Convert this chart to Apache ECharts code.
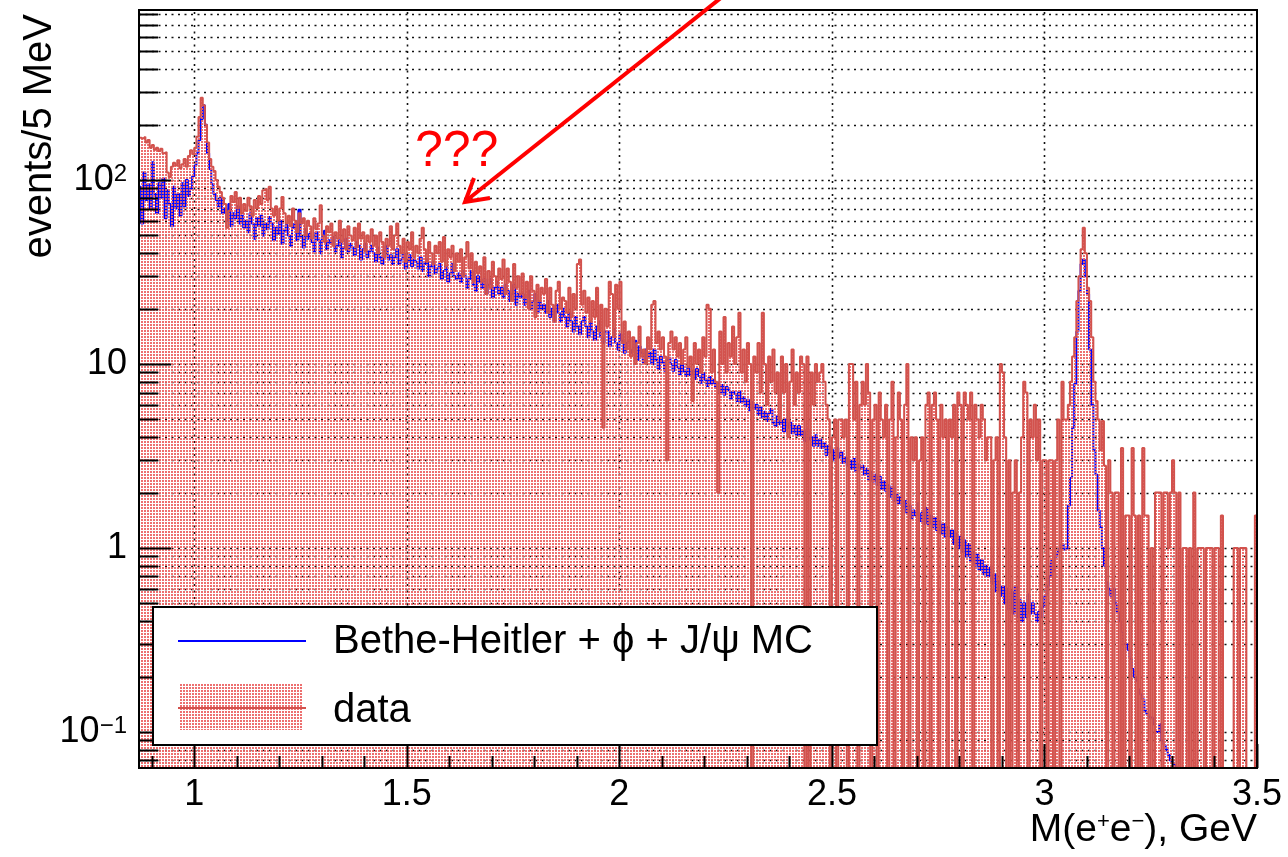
<!DOCTYPE html>
<html><head><meta charset="utf-8">
<script src="https://cdn.jsdelivr.net/npm/echarts@6/dist/echarts.min.js"></script>
<style>html,body{margin:0;padding:0;background:#fff}#c{width:1288px;height:857px}</style>
</head><body><div id="c"></div>
<script>
// ---- axis ranges and tick labels ----
const binStart = 0.87;       // GeV, first bin low edge
const binWidth = 0.005;      // 5 MeV bins
const xRange = [0.87, 3.5];
const yRange = [0.0637, 840];
const xTickLabels = [1, 1.5, 2, 2.5, 3, 3.5];
const yTickLabels = [0.1, 1, 10, 100];

// ---- data histogram, events / 5 MeV (bins from 0.87 GeV) ----
const dataCounts = [
 170,168,172,160,165,150,155,146,150,144,
 148,140,142,110,104,118,124,120,128,116,
 122,130,118,135,145,138,150,172,220,280,
 255,200,160,130,118,112,100,92,86,80,
 74,55,68,82,76,86,70,80,66,74,
 68,80,72,64,78,70,82,74,88,90,
 78,92,70,64,72,60,70,81,66,58,
 64,56,70,60,52,66,58,62,50,60,
 56,48,62,54,58,73,50,46,56,52,
 58,44,52,48,60,46,54,42,56,50,
 47,55,43,58,48,52,41,50,46,54,
 44,50,40,52,46,38,48,44,56,42,
 50,58,44,40,48,36,46,42,52,38,
 44,40,48,55,42,36,46,40,35,44,
 40,46,36,49,34,42,38,44,32,40,
 36,42,30,38,46,33,40,28,36,31,
 34,28,38,24,32,26,36,30,27,33,
 29,37,24,33,28,22,35,26,30,24,
 31,23,28,20,30,25,18,27,22,26,
 24,29,19,26,21,17,25,28,20,23,
 22,19,26,18,24,20,35,37,21,25,
 19,23,17,22,18,26,15,21,4.5,20,
 16,28,24,14,27,20,28,13,17,12,
 15,11,14,10,13,16,11,12,10,14,
 12,21,22,13,15,12,14,11,3,13,
 15,12,14,11,13,10,12,14,9.6,11,
 6.3,13,10,12,9,14,11,21,20,9,
 12,8,2,15,10,18,9,13,11,16,
 10,14,19,9,12,8,13,10,0,11,
 9,13,7,19,10,6,11,8,12,7,
 9,5,11,7,10,4,8,12,6,9,
 7,11,10,0,11,0,9,6,10,8,
 9,10,8,6,5,0,4,5,0,5,
 5,4,5,0,10,10,5,8,0,6,
 8,6,10,7,0,5,6,0,7,5,
 4,6,0,5,8,0,4,7,5,0,
 6,10,0,4,3,4,0,3,4,0,
 6,7,0,6,7,5,0,6,4,5,
 0,5,4,6,0,7,6,0,7,6,
 5,7,0,6,5,4,6,5,3,4,
 4,0,3,4,0,10,9,4,0,3,
 0,2,3,0,2,4,8,7,0,5,
 4,6,3,5,0,3,3,0,3,3,
 0,3,5,0,8,5,5,6,8,11,
 14,22,30,42,55,40,26,22,14,8,
 6.3,5,3.4,4.9,2.8,0,3,2,0,2,
 2,0,3.5,0,1.5,1.5,0,3.5,1.5,0,
 1.5,0,3.5,1.5,1.5,0,1,0,2,2,
 2,0,2,2,1,2,3,2,0,2,
 0,1,1,0,1,0,2,0,1,1,
 1,0,1,1,1,0,1,1,0,1.5,
 0,0,0,0,0,1,1,0,1,1,
 1,0,0,0,0,1.5
];

// ---- Bethe-Heitler + phi + J/psi MC, events / 5 MeV ----
const mcCounts = [
 92,58,110,78,95,70,125,84,66,96,
 80,102,62,88,74,56,92,70,84,64,
 96,72,100,82,90,105,120,140,165,215,
 255,200,140,115,95,84,78,72,80,66,
 70,60,74,56,66,62,72,58,64,55,
 60,52,66,58,48,62,56,64,50,58,
 54,63,58,47,55,51,60,45,53,57,
 50,44,55,58,47,69,49,43,54,48,
 51,46,41,52,47,40,49,53,42,47,
 45,49,41,44,47,38,43,48,41,45,
 43,39,46,44,37,42,45,38,41,44,
 40,36,43,38,35,41,44,37,39,35,
 38,42,35,37,40,33,36,39,34,37,
 36,33,38,32,35,37,30,34,36,31,
 33,35,29,32,34,28,31,35,30,29,
 31,28,32,30,26,29,32,27,25,30,
 28,26,29,24,27,29,23,26,28,24,
 26,23,27,25,22,24,27,21,24,23,
 24,21,23,25,20,22,24,19,22,20,
 21,19,22,18,20,17,21,19,17,20,
 18,16,19,17,15,18,16,14.5,17,18,
 16,14,17,15,13.5,16,17,14,13,15,
 15,12.5,14,15.5,13,12,14.5,13.4,11.5,13,
 13.5,11.5,12,13.4,10.5,12.5,11.5,10.2,12,11,
 11.5,10,12,10.5,9.4,11,10.2,9.2,10.5,10.8,
 10,9.2,10.5,9.6,8.8,9.9,9.1,8.6,9.6,8.7,
 9.2,8.3,9.4,8.6,7.9,8.9,8.2,7.6,8.5,7.8,
 8.2,7.4,7.9,7,7.7,6.8,7.5,7.2,6.5,7.1,
 6.9,6.3,7.1,6.2,6.6,5.9,6.4,5.6,6.2,5.7,
 6,5.3,5.8,5.1,5.5,4.9,5.4,5.7,4.8,4.6,
 5.2,4.7,4.9,4.3,5,4.5,4.8,4.2,4.6,4.1,
 4.6,4.1,4.3,3.8,4.4,3.9,4,3.6,4.1,3.6,
 3.9,3.5,3.7,3.2,3.6,3.3,3.4,3,3.5,3.1,
 3.3,2.9,3.1,2.8,3,2.7,3.05,2.6,2.85,2.7,
 2.8,2.5,2.7,2.35,2.6,2.3,2.5,2.2,2.45,2.1,
 2.3,2.05,2.2,1.9,2.15,1.8,1.95,1.75,1.9,1.65,
 1.8,1.55,1.7,1.45,1.6,1.5,1.75,1.4,1.55,1.35,
 1.65,1.35,1.5,1.3,1.45,1.25,1.4,1.2,1.35,1.15,
 1.3,1.15,1.25,1.05,1.2,1,1.15,0.95,1.1,0.9,
 1.05,0.85,0.95,0.8,0.92,0.76,0.86,0.72,0.8,0.7,
 0.78,0.64,0.72,0.58,0.66,0.55,0.62,0.5,0.6,0.46,
 0.58,0.44,0.62,0.42,0.52,0.4,0.5,0.42,0.56,0.44,
 0.5,0.44,0.4,0.45,0.42,0.48,0.55,0.62,0.7,0.85,
 0.75,0.9,0.95,1,1.05,0.98,1,1.7,2.4,4.5,
 7.8,15,25,35,37,30,24,12,6,3.4,
 2.5,1.6,1.3,1,0.8,0.65,0.6,0.55,0.6,0.5,
 0.45,0.4,0.35,0.3,0.3,0.28,0.25,0.22,0.2,0.19,
 0.17,0.16,0.15,0.13,0.125,0.12,0.12,0.11,0.1,0.1,
 0.11,0.09,0.085,0.08,0.075,0.07,0.068,0.066,0.064,0.055,
 0.05,0.045,0.04,0.035,0.03,0.03,0.025,0.02,0.02,0.02,
 0.015,0.015,0.015,0.015,0.015,0.015,0.015,0.015,0.015,0.015,
 0.01,0.01,0.01,0.01,0.01,0.01,0.01,0.01,0.01,0.01,
 0.01,0.01,0.01,0.01,0.01,0.01
];

// ---- build step points (empty bins go below the log axis floor) ----
const FLOOR = 1e-3;
function stepPoints(arr) {
  const pts = arr.map((v, i) => [+(binStart + i * binWidth).toFixed(4), v > 0 ? v : FLOOR]);
  const last = arr[arr.length - 1];
  pts.push([+(binStart + arr.length * binWidth).toFixed(4), last > 0 ? last : FLOOR]);
  return pts;
}
const dataPts = stepPoints(dataCounts);
const mcPts = stepPoints(mcCounts);

// grid / tick positions
const yMinor = [];
for (let d = -2; d <= 2; d++) for (let k = 1; k <= 9; k++) {
  const v = +(k * Math.pow(10, d)).toPrecision(6);
  if (v > yRange[0] && v < yRange[1]) yMinor.push(v);
}
const xGrid = [1, 1.5, 2, 2.5, 3];
const xTicks = [];
for (let k = 9; k <= 35; k++) xTicks.push(+(k / 10).toFixed(2));

// dotted pattern for the data fill
const pc = document.createElement('canvas');
pc.width = 3; pc.height = 3;
const pctx = pc.getContext('2d');
pctx.fillStyle = 'rgba(236,100,100,0.92)';
pctx.fillRect(0, 0, 2, 2);
const fillPattern = { image: pc, repeat: 'repeat' };

const RED = '#d2524d';
const BLUE = '#0000ff';
const FONT = '"Liberation Sans", Arial, Helvetica, sans-serif';
const isDecade = v => Math.abs(Math.log10(v) - Math.round(Math.log10(v))) < 1e-6;

const chart = echarts.init(document.getElementById('c'), null, { renderer: 'canvas' });
chart.setOption({
  animation: false,
  backgroundColor: '#fff',
  grid: { left: 139, right: 31, top: 10, bottom: 89, containLabel: false, outerBoundsMode: 'none' },
  xAxis: {
    type: 'value', min: xRange[0], max: xRange[1],
    axisLine: { show: false }, axisTick: { show: false }, splitLine: { show: false },
    axisLabel: { customValues: xTickLabels, margin: 9, fontFamily: FONT, fontSize: 36, color: '#000' }
  },
  yAxis: {
    type: 'log', logBase: 10, min: yRange[0], max: yRange[1],
    axisLine: { show: false }, axisTick: { show: false }, splitLine: { show: false },
    axisLabel: {
      customValues: yTickLabels, margin: 12, fontFamily: FONT, fontSize: 36, color: '#000',
      formatter: v => {
        const e = Math.round(Math.log10(v));
        if (e === 2) return '{b|10}{s|2}';
        if (e === -1) return '{b|10}{s|\u22121}';
        return String(v);
      },
      rich: {
        b: { fontFamily: FONT, fontSize: 36, color: '#000' },
        s: { fontFamily: FONT, fontSize: 24, color: '#000', verticalAlign: 'top' }
      }
    }
  },
  series: [
    { // vertical grid lines
      type: 'custom', coordinateSystem: 'cartesian2d', z: 1, silent: true, clip: false,
      data: xGrid.map(v => [v, 1]),
      renderItem: (p, api) => {
        const v = api.value(0);
        const a = api.coord([v, yRange[0]]), b = api.coord([v, yRange[1]]);
        const x = Math.round(a[0]) + 0.5;
        return { type: 'line', shape: { x1: x, y1: a[1], x2: x, y2: b[1] },
          style: { stroke: '#111', lineWidth: 1.6, lineDash: [2, 4.5] } };
      }
    },
    { // horizontal grid lines
      type: 'custom', coordinateSystem: 'cartesian2d', z: 1, silent: true, clip: false,
      data: yMinor.map(v => [xRange[0], v]),
      renderItem: (p, api) => {
        const v = api.value(1);
        const a = api.coord([xRange[0], v]), b = api.coord([xRange[1], v]);
        const y = Math.round(a[1]) + 0.5;
        return { type: 'line', shape: { x1: a[0], y1: y, x2: b[0], y2: y },
          style: { stroke: '#111', lineWidth: 1.6, lineDash: [2, 4.5] } };
      }
    },
    { // MC
      name: 'mc', type: 'line', step: 'end', data: mcPts, symbol: 'none', z: 2, silent: true,
      clip: true, lineStyle: { color: BLUE, width: 2 }
    },
    { // data
      name: 'data', type: 'line', step: 'end', data: dataPts, symbol: 'none', z: 3, silent: true,
      clip: true, lineStyle: { color: RED, width: 2 },
      areaStyle: { color: fillPattern, opacity: 1, origin: 'start' }
    },
    { // y ticks
      type: 'custom', coordinateSystem: 'cartesian2d', z: 10, silent: true, clip: false,
      data: yMinor.map(v => [xRange[0], v]),
      renderItem: (p, api) => {
        const v = api.value(1);
        const a = api.coord([xRange[0], v]);
        const len = isDecade(v) ? 32 : 19;
        const y = Math.round(a[1]) + 0.5;
        return { type: 'line', shape: { x1: a[0], y1: y, x2: a[0] + len, y2: y },
          style: { stroke: '#000', lineWidth: 2 } };
      }
    },
    { // x ticks
      type: 'custom', coordinateSystem: 'cartesian2d', z: 10, silent: true, clip: false,
      data: xTicks.map(v => [v, 1]),
      renderItem: (p, api) => {
        const v = api.value(0);
        const a = api.coord([v, yRange[0]]);
        const major = Math.abs(v * 2 - Math.round(v * 2)) < 1e-6;
        const len = major ? 24 : 12;
        const x = Math.round(a[0]) + 0.5;
        return { type: 'line', shape: { x1: x, y1: a[1], x2: x, y2: a[1] - len },
          style: { stroke: '#000', lineWidth: 2 } };
      }
    }
  ],
  graphic: [
    // frame
    { type: 'rect', z: 100, silent: true, shape: { x: 139, y: 10, width: 1118, height: 758 },
      style: { fill: null, stroke: '#000', lineWidth: 2 } },
    // legend box
    { type: 'rect', z: 110, silent: true, shape: { x: 153, y: 607, width: 724, height: 138 },
      style: { fill: '#fff', stroke: '#000', lineWidth: 2 } },
    { type: 'line', z: 111, silent: true, shape: { x1: 178, y1: 641, x2: 306, y2: 641 },
      style: { stroke: BLUE, lineWidth: 2 } },
    { type: 'rect', z: 111, silent: true, shape: { x: 180, y: 684, width: 123, height: 46 },
      style: { fill: fillPattern, stroke: null } },
    { type: 'line', z: 112, silent: true, shape: { x1: 178, y1: 708, x2: 306, y2: 708 },
      style: { stroke: RED, lineWidth: 2 } },
    { type: 'text', z: 112, silent: true, x: 333, y: 642,
      style: { text: 'Bethe-Heitler + \u03D5 + J/\u03C8 MC', fontFamily: FONT, fontSize: 40, fill: '#000',
        align: 'left', verticalAlign: 'middle', textAlign: 'left', textVerticalAlign: 'middle' } },
    { type: 'text', z: 112, silent: true, x: 333, y: 711,
      style: { text: 'data', fontFamily: FONT, fontSize: 40, fill: '#000',
        align: 'left', verticalAlign: 'middle', textAlign: 'left', textVerticalAlign: 'middle' } },
    // axis titles
    { type: 'text', z: 100, silent: true, x: 40, y: 14, rotation: Math.PI / 2,
      style: { text: 'events/5 MeV', fontFamily: FONT, fontSize: 40, fill: '#000',
        align: 'right', verticalAlign: 'middle', textAlign: 'right', textVerticalAlign: 'middle' } },
    { type: 'text', z: 100, silent: true, x: 1257, y: 830,
      style: { text: '{a|M(e}{s|+}{a|e}{s|\u2212}{a|), GeV}', fontFamily: FONT, fontSize: 39, fill: '#000',
        align: 'right', verticalAlign: 'middle', textAlign: 'right', textVerticalAlign: 'middle',
        rich: { a: { fontFamily: FONT, fontSize: 39, fill: '#000' },
                s: { fontFamily: FONT, fontSize: 22, fill: '#000', verticalAlign: 'top' } } } },
    // annotation
    { type: 'text', z: 120, silent: true, x: 415, y: 152,
      style: { text: '???', fontFamily: FONT, fontSize: 50, fill: '#ff0000',
        align: 'left', verticalAlign: 'middle', textAlign: 'left', textVerticalAlign: 'middle' } },
    { type: 'line', z: 120, silent: true, shape: { x1: 722, y1: -3, x2: 467, y2: 200 },
      style: { stroke: '#ff0000', lineWidth: 4 } },
    { type: 'polyline', z: 120, silent: true, shape: { points: [[490, 198], [465, 202], [474, 178]] },
      style: { stroke: '#ff0000', lineWidth: 4, fill: null, lineJoin: 'miter' } }
  ]
});
</script>
</body></html>
